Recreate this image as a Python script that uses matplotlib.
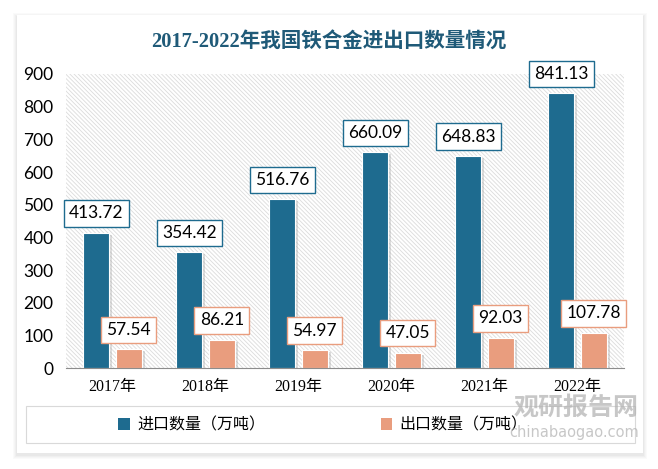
import numpy as np
import matplotlib.pyplot as plt
import matplotlib.patheffects as pe
from matplotlib.patches import Rectangle, Patch

plt.rcParams['font.family'] = ['Liberation Serif', 'Noto Sans CJK SC', 'DejaVu Sans']
plt.rcParams['hatch.linewidth'] = 0.6

# dados
anos = ['2017年', '2018年', '2019年', '2020年', '2021年', '2022年']
importacao = [413.72, 354.42, 516.76, 660.09, 648.83, 841.13]
exportacao = [57.54, 86.21, 54.97, 47.05, 92.03, 107.78]
nomes_series = ['进口数量（万吨）', '出口数量（万吨）']
titulo = '2017-2022年我国铁合金进出口数量情况'

cor_imp = '#1e6b8f'
cor_exp = '#e99d7e'

fig = plt.figure(figsize=(6.58, 4.69), dpi=100)
fig.patch.set_facecolor('white')

W, H = 658, 469
def fx(px):
    return px / W
def fy(py):
    return 1 - py / H

# sombra do cartao
for i, a in enumerate([0.04, 0.04, 0.05, 0.06]):
    d = 4 - i
    fig.patches.append(Rectangle((fx(17 - d), fy(453 + d + 2)), fx(626 + 2 * d), (438 + 2 * d) / H,
                                 transform=fig.transFigure, facecolor='#808080', edgecolor='none',
                                 alpha=a, zorder=0))
fig.patches.append(Rectangle((fx(17), fy(453)), fx(626), 438 / H, transform=fig.transFigure,
                             facecolor='white', edgecolor='none', zorder=0.5))

# caixa da legenda
fig.patches.append(Rectangle((fx(26), fy(443)), fx(609), 37 / H, transform=fig.transFigure,
                             facecolor='white', edgecolor='#d9d9d9', linewidth=0.8, zorder=1))

ax = fig.add_axes([fx(66), fy(368), fx(558), (368 - 74) / H])
ax.set_facecolor('none')
ax.set_zorder(2)

fundo = Rectangle((0, 0), 1, 1, transform=ax.transAxes, facecolor='white',
                  edgecolor='#dcdcdc', linewidth=0, hatch='\\\\\\\\\\\\\\\\', zorder=0)
ax.add_patch(fundo)

x = np.arange(len(anos))
larg = 0.28
desl = 0.175
sombra = [pe.SimplePatchShadow(offset=(2, -1.5), shadow_rgbFace='#a0a0a0', alpha=0.35), pe.Normal()]
ax.bar(x - desl, importacao, larg, color=cor_imp, edgecolor='white', linewidth=0.8,
       zorder=3, path_effects=sombra)
ax.bar(x + desl, exportacao, larg, color=cor_exp, edgecolor='white', linewidth=0.8,
       zorder=3, path_effects=sombra)

for xi, v in zip(x - desl, importacao):
    ax.annotate(f'{v:.2f}', (xi, v), xytext=(0, 14), textcoords='offset points',
                ha='center', va='center', fontsize=12.5, family=['Lato'], zorder=5,
                bbox=dict(boxstyle='square,pad=0.3', facecolor='white', edgecolor=cor_imp, linewidth=1))
for xi, v in zip(x + desl, exportacao):
    ax.annotate(f'{v:.2f}', (xi, v), xytext=(0, 14), textcoords='offset points',
                ha='center', va='center', fontsize=12.5, family=['Lato'], zorder=5,
                bbox=dict(boxstyle='square,pad=0.3', facecolor='white', edgecolor=cor_exp, linewidth=1))

ax.set_xlim(-0.5, len(anos) - 0.5)
ax.set_ylim(0, 900)
ax.set_yticks(np.arange(0, 901, 100))
ax.set_xticks(x)
ax.set_xticklabels(anos, fontsize=11.5)
ax.tick_params(axis='y', length=0, labelsize=12.5, pad=9)
for t in ax.get_yticklabels():
    t.set_family(['Lato'])
ax.tick_params(axis='x', length=0, pad=8)
for s in ['top', 'right', 'left']:
    ax.spines[s].set_visible(False)
ax.spines['bottom'].set_color('#8c8c8c')
ax.spines['bottom'].set_zorder(4)

fig.text(0.5, fy(42), titulo, ha='center', va='center', fontsize=14.8, fontweight='bold',
         color='#1f5a78', family=['Liberation Serif', 'Noto Sans CJK SC'], zorder=3)

handles = [Patch(facecolor=cor_imp), Patch(facecolor=cor_exp)]
leg = fig.legend(handles, nomes_series, loc='center', bbox_to_anchor=(fx(323), fy(425)),
                 ncol=2, frameon=False, handlelength=0.7, handleheight=0.7,
                 handletextpad=0.5, columnspacing=7.2, prop={'family': ['Noto Sans CJK SC'], 'size': 11.5})
leg.set_zorder(3)

# marca d'agua
fig.text(fx(576), fy(408), '观研报告网', ha='center', va='center', fontsize=18, fontweight='bold',
         color='#b0b0b0', alpha=0.7, family=['Noto Sans CJK SC'], zorder=6)
fig.text(fx(574), fy(433), 'chinabaogao.com', ha='center', va='center', fontsize=10.5,
         color='#b0b0b0', alpha=0.7, family=['DejaVu Sans'], zorder=6)

plt.savefig('out.png', dpi=100)
